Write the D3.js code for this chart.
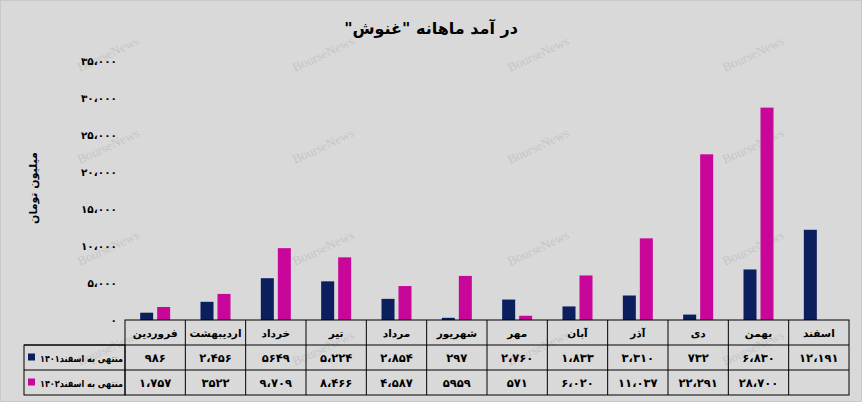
<!DOCTYPE html>
<html>
<head>
<meta charset="utf-8">
<script src="https://cdn.jsdelivr.net/npm/d3@7/dist/d3.min.js"></script>
<style>
  body { margin: 0; background: #d9d9d9; }
  svg { display: block; }
</style>
</head>
<body>
<svg id="chart" width="862" height="402"></svg>
<script>
const categories = ["فروردین","اردیبهشت","خرداد","تیر","مرداد","شهریور","مهر","آبان","آذر","دی","بهمن","اسفند"];
const series1Name = "منتهی به اسفند۱۴۰۱";
const series2Name = "منتهی به اسفند۱۴۰۲";
const series1 = [986, 2456, 5649, 5224, 2854, 297, 2760, 1833, 3310, 732, 6830, 12191];
const series2 = [1757, 3522, 9709, 8466, 4587, 5959, 571, 6020, 11037, 22391, 28700, null];
const series1Labels = ["۹۸۶","۲،۴۵۶","۵۶۴۹","۵،۲۲۴","۲،۸۵۴","۲۹۷","۲،۷۶۰","۱،۸۳۳","۳،۳۱۰","۷۳۲","۶،۸۳۰","۱۲،۱۹۱"];
const series2Labels = ["۱،۷۵۷","۳۵۲۲","۹،۷۰۹","۸،۴۶۶","۴،۵۸۷","۵۹۵۹","۵۷۱","۶،۰۲۰","۱۱،۰۳۷","۲۲،۲۹۱","۲۸،۷۰۰",""];
const yTicks = [0, 5000, 10000, 15000, 20000, 25000, 30000, 35000];
const title = "در آمد ماهانه \"غنوش\"";
const yTitle = "میلیون تومان";

const colors = ["#0b1f5e", "#c8069a"];
const fa = s => String(s).replace(/\d/g, d => "۰۱۲۳۴۵۶۷۸۹"[d]).replace(/,/g, "،");
const fmt = v => fa(d3.format(",")(v));

const svg = d3.select("#chart");
const W = 862, H = 402;
const left = 125, right = 849, baseY = 320, topY = 61;
const rowH = 25;
const headX = 24;

svg.append("rect").attr("x", 0.5).attr("y", 0.5).attr("width", W - 1).attr("height", H - 1)
  .attr("fill", "#d9d9d9").attr("stroke", "#c8c8c8");

// watermarks
const wmX = [110, 325, 540, 755];
const wmY = [58, 150, 252, 352];
const wm = svg.append("g");
wmY.forEach(yy => wmX.forEach(xx => {
  wm.append("text").attr("transform", `translate(${xx},${yy}) rotate(-25)`)
    .attr("text-anchor", "middle").attr("font-family", "Liberation Serif")
    .attr("font-size", 13).attr("fill", "#c6c6c6").text("BourseNews");
}));

const x = d3.scaleBand().domain(categories).range([left, right]).paddingInner(0).paddingOuter(0);
const y = d3.scaleLinear().domain([0, 35000]).range([baseY, topY]);

const barW = 13, gap = 4;
const groups = svg.append("g");
[series1, series2].forEach((ser, si) => {
  groups.selectAll(null).data(categories.map((c, i) => ({c, v: ser[i]})).filter(d => d.v != null))
    .join("rect")
    .attr("x", d => x(d.c) + x.bandwidth() / 2 - (barW * 2 + gap) / 2 + si * (barW + gap))
    .attr("y", d => y(d.v))
    .attr("width", barW)
    .attr("height", d => baseY - y(d.v))
    .attr("fill", colors[si]);
});

// y axis
const yAxis = d3.axisLeft(y).tickValues(yTicks).tickSize(0).tickPadding(8).tickFormat(fmt);
const ya = svg.append("g").attr("transform", `translate(${left},0)`).call(yAxis);
ya.select(".domain").remove();
ya.selectAll("text").attr("font-family", "DejaVu Sans").attr("font-weight", "bold")
  .attr("font-size", 10.5).attr("fill", "#000");

// y title
svg.append("text").attr("transform", `translate(37,188) rotate(-90)`)
  .attr("direction", "rtl").attr("text-anchor", "middle")
  .attr("font-family", "DejaVu Sans").attr("font-weight", "bold")
  .attr("font-size", 11).attr("fill", "#000").text(yTitle);

// title
svg.append("text").attr("x", 431).attr("y", 34).attr("direction", "rtl").attr("text-anchor", "middle")
  .attr("font-family", "DejaVu Sans").attr("font-weight", "bold").attr("font-size", 16)
  .attr("fill", "#000").text(title);

// data table
const tbl = svg.append("g").attr("font-family", "DejaVu Sans").attr("font-weight", "bold").attr("fill", "#000");
const lineStyle = s => s.attr("stroke", "#000").attr("stroke-width", 1).attr("fill", "none");
tbl.append("rect").attr("x", left).attr("y", baseY).attr("width", right - left).attr("height", rowH * 3).call(lineStyle);
tbl.append("rect").attr("x", headX).attr("y", baseY + rowH).attr("width", left - headX).attr("height", rowH * 2).call(lineStyle);
[1, 2].forEach(r => tbl.append("line").attr("x1", headX).attr("x2", right)
  .attr("y1", baseY + rowH * r).attr("y2", baseY + rowH * r).call(lineStyle));
categories.slice(1).forEach(c => tbl.append("line").attr("x1", x(c)).attr("x2", x(c))
  .attr("y1", baseY).attr("y2", baseY + rowH * 3).call(lineStyle));

tbl.selectAll(null).data(categories).join("text")
  .attr("x", d => x(d) + x.bandwidth() / 2).attr("y", baseY + rowH / 2 + 4)
  .attr("direction", "rtl").attr("text-anchor", "middle").attr("font-size", 10.5).text(d => d);
[series1Labels, series2Labels].forEach((labs, si) => {
  tbl.selectAll(null).data(labs).join("text")
    .attr("x", (d, i) => x(categories[i]) + x.bandwidth() / 2)
    .attr("y", baseY + rowH * (si + 1) + rowH / 2 + 4)
    .attr("text-anchor", "middle").attr("font-size", 11.5).text(d => d);
});
[series1Name, series2Name].forEach((n, si) => {
  const yy = baseY + rowH * (si + 1) + rowH / 2;
  tbl.append("rect").attr("x", headX + 4).attr("y", yy - 4).attr("width", 7).attr("height", 7).attr("fill", colors[si]);
  tbl.append("text").attr("x", (headX + 13 + left) / 2 + 0.5).attr("y", yy + 4)
    .attr("direction", "rtl").attr("text-anchor", "middle")
    .attr("font-size", 9.5).attr("textLength", 83).attr("lengthAdjust", "spacingAndGlyphs").text(n);
});
</script>
</body>
</html>
